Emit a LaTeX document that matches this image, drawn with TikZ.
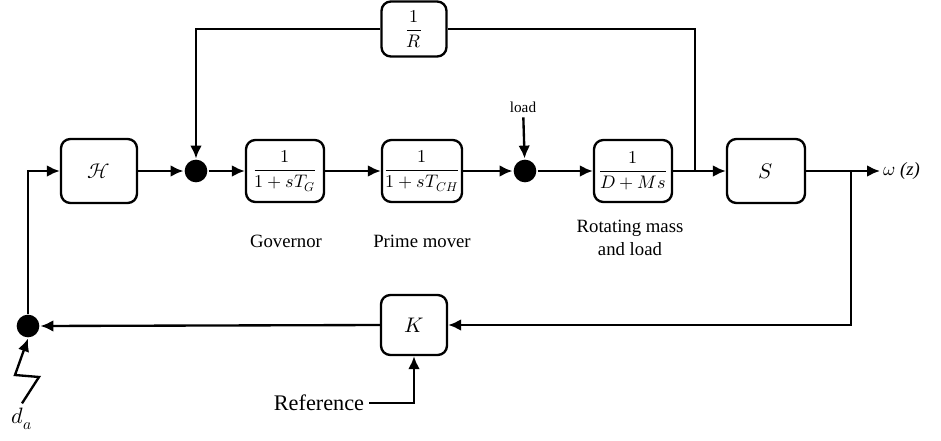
\documentclass[tikz,border=0pt]{standalone}
\usepackage{fontspec}
\usepackage{unicode-math}
\setmainfont{Liberation Serif}
\usetikzlibrary{arrows.meta, positioning}

\begin{document}
\begin{tikzpicture}[x=0.03cm, y=-0.03cm, line width=2pt, >={Latex[length=11pt,width=10pt]}]
        \tikzstyle{every node}=[align=center, font=\fontsize{16}{19}\selectfont]
        \tikzstyle{block}=[draw, rounded corners=8pt, line width=2pt, inner sep=2pt, minimum width=2.34cm, minimum height=1.86cm, font=\fontsize{15.5}{18}\selectfont]
        \tikzstyle{letter}=[font=\fontsize{18}{21}\selectfont]
        \tikzstyle{sumdot}=[circle, fill=black, inner sep=0pt, minimum size=0.68cm]
        \useasboundingbox (0,0) rectangle (941,440);

        \node at (99, 171) [block, letter, minimum width=2.28cm, minimum height=1.92cm] (H) {$\mathcal{H}$};
        \node at (196, 171) [sumdot] (sum1) {};
        \node at (285, 171) [block] (gov) {$\displaystyle\frac{1}{1+sT_G}$};
        \node at (422, 171) [block] (pm) {$\displaystyle\frac{1}{1+sT_{CH}}$};
        \node at (525, 171) [sumdot] (sum2) {};
        \node at (633, 171) [block] (rot) {$\displaystyle\frac{1}{D+Ms}$};
        \node at (766, 171) [block, letter, minimum height=1.92cm] (S) {$S$};
        \node at (414, 29) [block, minimum width=1.95cm, minimum height=1.65cm] (R) {$\displaystyle\frac{1}{R}$};
        \node at (414, 325) [block, letter, minimum width=1.98cm, minimum height=1.8cm] (K) {$K$};
        \node at (28, 326) [sumdot] (sum3) {};

        \node at (286, 241) (govlbl) {Governor};
        \node at (422, 241) (pmlbl) {Prime mover};
        \node at (630, 238) (rotlbl) {Rotating mass\\and load};
        \node at (523, 107) [font=\fontsize{13}{15}\selectfont] (loadlbl) {load};
        \node at (319, 403) [font=\fontsize{19}{22}\selectfont] (ref) {Reference};
        \node at (22, 419) [font=\fontsize{19}{22}\selectfont] (da) {$d_a$};

        \coordinate (tap) at (695, 171);
        \coordinate (br) at (851, 171);
        \coordinate (out) at (880, 171);
        \node at (out) [anchor=west, inner sep=2pt] (omega) {$\omega$ \textit{(z)}};

        \draw[->] (H) -- (sum1);
        \draw[->] (sum1) -- (gov);
        \draw[->] (gov) -- (pm);
        \draw[->] (pm) -- (sum2);
        \draw[->] (sum2) -- (rot);
        \draw[->] (rot) -- (S);
        \draw[->] (S) -- (out);
        \draw[->] (loadlbl) -- (sum2);
        \draw     (tap) |- (R.east);
        \draw[->] (R.west) -| (sum1.north);
        \draw[->] (br) |- (K.east);
        \draw[->] (K.west) -- (sum3.east);
        \draw[->] (sum3.north) |- (H.west);
        \draw[->] (ref.east) -| (K.south);
        \draw[->] (da.north) -- (39, 377) -- (15, 375) -- (sum3.south);
\end{tikzpicture}
\end{document}
